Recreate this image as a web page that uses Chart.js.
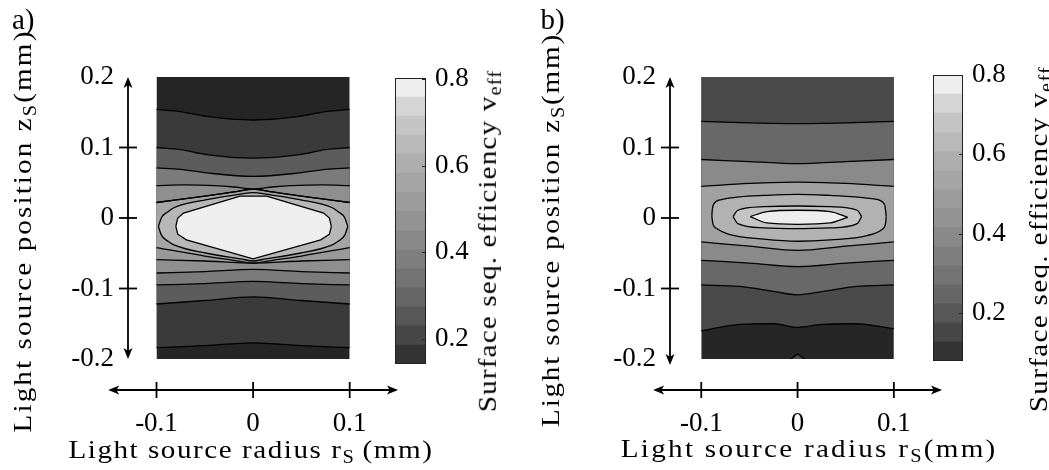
<!DOCTYPE html>
<html>
<head>
<meta charset="utf-8">
<script src="https://cdn.jsdelivr.net/npm/chart.js@4/dist/chart.umd.min.js"></script>
<style>
  body { margin: 0; background: #fff; }
  #page { position: relative; width: 1049px; height: 470px; overflow: hidden; background: #fff; }
  canvas { position: absolute; }
  .lbl { position: absolute; white-space: nowrap; font-family: 'Liberation Serif', serif; font-size: 26px;
         line-height: 1; color: #000; transform-origin: 50% 50%; }
  .lbl sub { font-size: 70%; line-height: 0; vertical-align: -0.3em; }
  .tag { font-size: 29px; }
</style>
</head>
<body>
<div id="page">
  <canvas id="mapA" width="400" height="440" style="left:0;top:0"></canvas>
  <canvas id="barA" width="80" height="400" style="left:395px;top:0"></canvas>
  <canvas id="mapB" width="400" height="440" style="left:545px;top:0"></canvas>
  <canvas id="barB" width="80" height="400" style="left:933px;top:0"></canvas>
  <div class="lbl tag" id="tagA">a)</div>
  <div class="lbl tag" id="tagB">b)</div>
  <div class="lbl" id="xTitleA">Light source radius r<sub>S</sub>&#8201;(mm)</div>
  <div class="lbl" id="xTitleB">Light source radius r<sub>S</sub>(mm)</div>
  <div class="lbl" id="yTitleA">Light source position z<sub>S</sub>(mm)</div>
  <div class="lbl" id="yTitleB">Light source position z<sub>S</sub>(mm)</div>
  <div class="lbl" id="cTitleA">Surface seq. efficiency v<sub>eff</sub></div>
  <div class="lbl" id="cTitleB">Surface seq. efficiency v<sub>eff</sub></div>
</div>
<script>
// axis ticks
const xTicks = [-0.1, 0, 0.1];
const yTicks = [-0.2, -0.1, 0, 0.1, 0.2];
const yMarks = [-0.1, 0, 0.1];
const cbTicks = [0.2, 0.4, 0.6, 0.8];
const xArrowEnds = [-0.15, 0.15];

// colorbar levels and colours (bottom -> top)
const levelsA = [0.142, 0.186, 0.230, 0.274, 0.318, 0.362, 0.406, 0.450, 0.495, 0.539, 0.583, 0.627, 0.671, 0.715, 0.759, 0.803];
const levelsB = [0.079, 0.127, 0.175, 0.223, 0.271, 0.319, 0.367, 0.415, 0.463, 0.511, 0.559, 0.607, 0.655, 0.704, 0.752, 0.800];
const barColors = ['#333333', '#474747', '#575757', '#666666', '#737373', '#7f7f7f', '#898989', '#939393',
                   '#9c9c9c', '#a5a5a5', '#aeaeae', '#b9b9b9', '#c5c5c5', '#d5d5d5', '#eeeeee'];

// panel a contour lines [r, z]
const aTopEdge = [[-0.1, 0.2], [0.1, 0.2]];
const aBottomEdge = [[-0.1, -0.2], [0.1, -0.2]];
const aL1 = [[-0.1, 0.154], [-0.075, 0.151], [-0.048, 0.144], [0, 0.139], [0.048, 0.144], [0.075, 0.151], [0.1, 0.154]];
const aL2 = [[-0.1, 0.100], [-0.075, 0.097], [-0.048, 0.090], [0, 0.085], [0.048, 0.090], [0.075, 0.097], [0.1, 0.100]];
const aL3 = [[-0.1, 0.071], [-0.075, 0.069], [-0.048, 0.064], [0, 0.059], [0.048, 0.064], [0.075, 0.069], [0.1, 0.071]];
const aL4 = [[-0.1, 0.046], [-0.072, 0.047], [-0.04, 0.046], [-0.02, 0.044], [0, 0.041], [0.02, 0.044], [0.04, 0.046], [0.072, 0.047], [0.1, 0.046]];
const aL5 = [[-0.1, 0.022], [-0.05, 0.031], [-0.02, 0.037], [0, 0.041], [0.02, 0.037], [0.05, 0.031], [0.1, 0.022]];
const aB1 = [[-0.1, -0.184], [-0.05, -0.181], [0, -0.177], [0.05, -0.181], [0.1, -0.184]];
const aB2 = [[-0.1, -0.122], [-0.05, -0.117], [0, -0.112], [0.05, -0.117], [0.1, -0.122]];
const aB3 = [[-0.1, -0.095], [-0.05, -0.093], [0, -0.090], [0.05, -0.093], [0.1, -0.095]];
const aB4 = [[-0.1, -0.078], [-0.05, -0.076], [0, -0.073], [0.05, -0.076], [0.1, -0.078]];
const aB5 = [[-0.1, -0.059], [-0.05, -0.061], [0, -0.064], [0.05, -0.061], [0.1, -0.059]];
const aB6 = [[-0.1, -0.042], [-0.05, -0.054], [-0.02, -0.060], [0, -0.064], [0.02, -0.060], [0.05, -0.054], [0.1, -0.042]];
const aLoopUp = [[-0.098, -0.012], [-0.095, 0.0], [-0.088, 0.009], [-0.082, 0.0145], [-0.048, 0.026], [-0.013, 0.034], [0, 0.036],
                 [0.013, 0.034], [0.048, 0.026], [0.082, 0.0145], [0.088, 0.009], [0.095, 0.0], [0.098, -0.012]];
const aLoopLow = [[-0.098, -0.012], [-0.095, -0.024], [-0.088, -0.033], [-0.082, -0.038], [-0.048, -0.050], [-0.013, -0.058], [0, -0.061],
                  [0.013, -0.058], [0.048, -0.050], [0.082, -0.038], [0.088, -0.033], [0.095, -0.024], [0.098, -0.012]];
const aDiamondUp = [[-0.080, -0.012], [-0.078, 0.0], [-0.072, 0.007], [-0.0135, 0.031], [0.014, 0.031], [0.073, 0.007], [0.079, 0.0], [0.081, -0.012]];
const aDiamondLow = [[-0.080, -0.012], [-0.078, -0.023], [-0.069, -0.031], [0, -0.058], [0.070, -0.031], [0.079, -0.023], [0.081, -0.012]];
const aColors = ['#252525', '#3a3a3a', '#5c5c5c', '#7b7b7b', '#8f8f8f', '#9a9a9a', '#a5a5a5', '#b7b7b7', '#eeeeee'];

// panel b contour lines [r, z]
const bTopEdge = [[-0.1, 0.2], [0.1, 0.2]];
const bBottomEdge = [[-0.1, -0.2], [0.1, -0.2]];
const bM1 = [[-0.1, 0.137], [-0.05, 0.135], [0, 0.134], [0.05, 0.135], [0.1, 0.137]];
const bM2 = [[-0.1, 0.083], [-0.05, 0.080], [0, 0.077], [0.05, 0.080], [0.1, 0.083]];
const bM3 = [[-0.1, 0.045], [-0.05, 0.049], [0, 0.051], [0.05, 0.049], [0.1, 0.045]];
const bM4 = [[-0.1, -0.034], [-0.05, -0.040], [0, -0.046], [0.05, -0.040], [0.1, -0.034]];
const bM5 = [[-0.1, -0.060], [-0.05, -0.064], [0, -0.069], [0.05, -0.064], [0.1, -0.060]];
const bM6 = [[-0.1, -0.095], [-0.06, -0.097], [-0.025, -0.104], [0, -0.109], [0.027, -0.104], [0.061, -0.097], [0.1, -0.095]];
const bM7 = [[-0.1, -0.160], [-0.06, -0.151], [-0.025, -0.150], [0, -0.155], [0.025, -0.151], [0.06, -0.150], [0.1, -0.157]];
const bPeakUp = [[-0.007, -0.2], [0, -0.193], [0.007, -0.2]];
const bPeakLow = [[-0.007, -0.2], [0.007, -0.2]];
const bOuterUp = [[-0.089, 0.003], [-0.0885, 0.012], [-0.087, 0.020], [-0.079, 0.026], [-0.06, 0.030], [-0.035, 0.032], [0, 0.0335],
                  [0.034, 0.032], [0.06, 0.030], [0.079, 0.027], [0.090, 0.020], [0.0915, 0.010], [0.092, 0.002]];
const bOuterLow = [[-0.089, 0.003], [-0.088, -0.008], [-0.084, -0.015], [-0.072, -0.023], [-0.035, -0.030], [0, -0.033],
                   [0.034, -0.031], [0.072, -0.025], [0.088, -0.016], [0.0915, -0.007], [0.092, 0.002]];
const bMidUp = [[-0.067, 0.002], [-0.062, 0.011], [-0.035, 0.016], [0, 0.017], [0.034, 0.016], [0.062, 0.011], [0.0665, 0.002]];
const bMidLow = [[-0.067, 0.002], [-0.062, -0.008], [-0.035, -0.014], [0, -0.015], [0.034, -0.014], [0.062, -0.008], [0.0665, 0.002]];
const bInnerUp = [[-0.049, 0.002], [-0.032, 0.009], [0, 0.011], [0.034, 0.009], [0.052, 0.001]];
const bInnerLow = [[-0.049, 0.002], [-0.032, -0.007], [0, -0.009], [0.034, -0.007], [0.052, 0.001]];
const bColors = ['#262626', '#4a4a4a', '#686868', '#8a8a8a', '#a1a1a1', '#b2b2b2', '#c4c4c4', '#ededed'];

// filled regions: [upper line, lower line, colour index, sharp corners]
const regionsA = [
  [aTopEdge, aBottomEdge, 0], [aL1, aB1, 1], [aL2, aB2, 2], [aL3, aB3, 3], [aL4, aB4, 4],
  [aL5, aB5, 5], [aL5, aB6, 6], [aLoopUp, aLoopLow, 7], [aDiamondUp, aDiamondLow, 8, true]
];
const regionsB = [
  [bTopEdge, bBottomEdge, 0], [bTopEdge, bM7, 1], [bPeakUp, bPeakLow, 1, true], [bM1, bM6, 2], [bM2, bM5, 3],
  [bM3, bM4, 4], [bOuterUp, bOuterLow, 5], [bMidUp, bMidLow, 6], [bInnerUp, bInnerLow, 7]
];
const edges = [aTopEdge, aBottomEdge, bTopEdge, bBottomEdge, bPeakLow];

const tickFont = { family: 'Liberation Serif', size: 27 };

function lineSet(pts, color, fill, order, sharp) {
  const edge = edges.includes(pts);
  return {
    data: pts.map(p => ({ x: p[0], y: p[1] })),
    borderColor: edge ? 'rgba(0,0,0,0)' : '#000',
    borderWidth: edge ? 0 : 1.3,
    backgroundColor: color || 'rgba(0,0,0,0)',
    fill: fill,
    pointRadius: 0,
    tension: 0,
    cubicInterpolationMode: sharp ? 'default' : 'monotone',
    order: order
  };
}

function contourSets(regions, colors) {
  let sets = [];
  regions.forEach((r, k) => {
    const order = regions.length - k;
    sets.push(lineSet(r[0], colors[r[2]], '+1', order, r[3]));
    sets.push(lineSet(r[1], null, false, order, r[3]));
  });
  return sets;
}

function arrowHead(ctx, tx, ty, dx, dy) {
  const L = 11, W = 4.5;
  const nx = -dy, ny = dx;
  ctx.beginPath();
  ctx.moveTo(tx, ty);
  ctx.lineTo(tx - L * dx + W * nx, ty - L * dy + W * ny);
  ctx.lineTo(tx - 0.75 * L * dx, ty - 0.75 * L * dy);
  ctx.lineTo(tx - L * dx - W * nx, ty - L * dy - W * ny);
  ctx.closePath();
  ctx.fill();
}

// double arrow axes with tick marks, drawn from the chart scales
const axisArrows = {
  id: 'axisArrows',
  afterDraw(chart, args, o) {
    const { ctx, chartArea: ca } = chart;
    const x = chart.scales.x, y = chart.scales.y;
    const ax = ca.left + o.yShift;
    const ay = ca.bottom + o.xShift;
    ctx.save();
    ctx.strokeStyle = '#000';
    ctx.fillStyle = '#000';
    ctx.lineWidth = 1.8;
    const y0 = y.getPixelForValue(y.max), y1 = y.getPixelForValue(y.min) + o.yExtra;
    ctx.beginPath(); ctx.moveTo(ax, y0 + 6); ctx.lineTo(ax, y1 - 6); ctx.stroke();
    arrowHead(ctx, ax, y0, 0, -1);
    arrowHead(ctx, ax, y1, 0, 1);
    yMarks.forEach(v => {
      const p = y.getPixelForValue(v);
      ctx.beginPath(); ctx.moveTo(ax - 9, p); ctx.lineTo(ax + 9, p); ctx.stroke();
    });
    const x0 = x.getPixelForValue(xArrowEnds[0]), x1 = x.getPixelForValue(xArrowEnds[1]);
    ctx.beginPath(); ctx.moveTo(x0 + 6, ay); ctx.lineTo(x1 - 6, ay); ctx.stroke();
    arrowHead(ctx, x0, ay, -1, 0);
    arrowHead(ctx, x1, ay, 1, 0);
    xTicks.forEach(v => {
      const p = x.getPixelForValue(v);
      ctx.beginPath(); ctx.moveTo(p, ay - 8); ctx.lineTo(p, ay + 8); ctx.stroke();
    });
    ctx.restore();
  }
};

const barFrame = {
  id: 'barFrame',
  afterDraw(chart) {
    const { ctx, chartArea: ca } = chart;
    const y = chart.scales.y;
    ctx.save();
    ctx.strokeStyle = '#222';
    ctx.lineWidth = 1;
    ctx.strokeRect(ca.left + 0.5, ca.top + 0.5, ca.width - 1, ca.height - 1);
    cbTicks.forEach(v => {
      const p = Math.round(y.getPixelForValue(v)) + 0.5;
      ctx.beginPath(); ctx.moveTo(ca.right - 4, p); ctx.lineTo(ca.right, p); ctx.stroke();
    });
    ctx.restore();
  }
};

function makeMap(id, regions, colors, xMin, axisWidth, padRight, yExtra) {
  return new Chart(document.getElementById(id), {
    type: 'line',
    data: { datasets: contourSets(regions, colors) },
    options: {
      responsive: false,
      animation: false,
      devicePixelRatio: 1,
      events: [],
      layout: { padding: { left: 0, top: 77, right: padRight, bottom: 0 } },
      scales: {
        x: {
          type: 'linear', min: xMin, max: 0.15,
          afterFit: s => { s.height = 81; },
          afterBuildTicks: s => { s.ticks = xTicks.map(v => ({ value: v })); },
          ticks: { font: tickFont, color: '#000', padding: 0, maxRotation: 0, autoSkip: false, callback: v => String(v) },
          // invisible tick marks only push the labels down to the reference position
          grid: { color: 'rgba(0,0,0,0)', drawOnChartArea: false, drawTicks: true, tickLength: 49 },
          border: { display: false }
        },
        y: {
          type: 'linear', min: -0.2, max: 0.2,
          afterFit: s => { s.width = axisWidth; },
          afterBuildTicks: s => { s.ticks = yTicks.map(v => ({ value: v })); },
          ticks: { font: tickFont, color: '#000', padding: 0, autoSkip: false, callback: v => String(v) },
          grid: { display: false, drawTicks: false },
          border: { display: false }
        }
      },
      plugins: {
        legend: { display: false },
        tooltip: { enabled: false },
        filler: { drawTime: 'beforeDatasetsDraw' },
        axisArrows: { yShift: 14, xShift: 31, yExtra: yExtra }
      }
    },
    plugins: [axisArrows]
  });
}

function makeBar(id, levels, padTop, padBottom, axisWidth) {
  return new Chart(document.getElementById(id), {
    type: 'bar',
    data: {
      labels: [''],
      datasets: barColors.map((c, i) => ({
        data: [[levels[i], levels[i + 1]]],
        backgroundColor: c,
        borderWidth: 0,
        grouped: false,
        barPercentage: 1,
        categoryPercentage: 1
      }))
    },
    options: {
      responsive: false,
      animation: false,
      devicePixelRatio: 1,
      events: [],
      layout: { padding: { left: 0, top: padTop, right: 0, bottom: padBottom } },
      scales: {
        x: { display: false },
        y: {
          position: 'right',
          min: levels[0], max: levels[levels.length - 1],
          afterFit: s => { s.width = axisWidth; },
          afterBuildTicks: s => { s.ticks = cbTicks.map(v => ({ value: v })); },
          ticks: { font: tickFont, color: '#000', padding: 9, callback: v => String(v) },
          grid: { display: false, drawTicks: false },
          border: { display: false }
        }
      },
      plugins: { legend: { display: false }, tooltip: { enabled: false } }
    },
    plugins: [barFrame]
  });
}

makeMap('mapA', regionsA, aColors, -0.144, 114, 2, 0);
makeMap('mapB', regionsB, bColors, -0.147, 111, 3, 6);
makeBar('barA', levelsA, 78, 36, 49);
makeBar('barB', levelsB, 75, 39, 50);

// place the text labels, stretching titles to the reference length
function place(id, cx, cy, len, rot) {
  const el = document.getElementById(id);
  const n = el.textContent.length;
  const w0 = el.offsetWidth;
  let s = 1, ls = 0;
  if (len) {
    s = Math.min(Math.max(len / w0, 0.9), 1.12);
    ls = (len / s - w0) / n;
  }
  el.style.letterSpacing = ls + 'px';
  const w = el.offsetWidth, h = el.offsetHeight;
  el.style.left = (cx - w / 2) + 'px';
  el.style.top = (cy - h / 2) + 'px';
  el.style.transform = 'rotate(' + rot + 'deg) scaleX(' + s + ')';
}
place('tagA', 23.5, 19.5, 0, 0);
place('tagB', 552.5, 19.5, 0, 0);
place('xTitleA', 250.5, 450, 365, 0);
place('xTitleB', 808.5, 449, 377, 0);
place('yTitleA', 23, 230.5, 403, -90);
place('yTitleB', 551, 230, 394, -90);
place('cTitleA', 487.5, 241, 342, -90);
place('cTitleB', 1038, 239, 346, -90);
</script>
</body>
</html>
